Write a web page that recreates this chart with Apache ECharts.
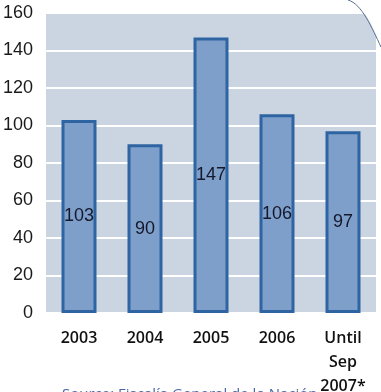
<!DOCTYPE html>
<html><head><meta charset="utf-8">
<script src="https://cdn.jsdelivr.net/npm/echarts@6/dist/echarts.min.js"></script>
<style>html,body{margin:0;padding:0;background:#fff}#c{width:381px;height:392px}</style>
</head><body><div id="c"></div>
<script>
var categories = ['2003', '2004', '2005', '2006', 'Until\nSep\n2007*'];
var values = [103, 90, 147, 106, 97];
var yTicks = [0, 20, 40, 60, 80, 100, 120, 140, 160];
var sourceText = 'Source: Fiscalía General de la Nación';

var chart = echarts.init(document.getElementById('c'), null, {renderer: 'canvas'});
chart.setOption({
  animation: false,
  grid: {left: 46, right: 5, top: 13, bottom: 79, show: true, backgroundColor: '#cbd5e2', borderWidth: 0, outerBoundsMode: 'none', containLabel: false},
  xAxis: {
    type: 'category', data: categories,
    axisLine: {show: false}, axisTick: {show: false},
    axisLabel: {margin: 13, color: '#111', fontFamily: 'Open Sans', fontSize: 16, fontWeight: 600, lineHeight: 24}
  },
  yAxis: {
    type: 'value', min: yTicks[0], max: yTicks[yTicks.length - 1], interval: 20,
    axisLine: {show: false}, axisTick: {show: false},
    axisLabel: {margin: 13, color: '#1a1a1a', fontFamily: 'Liberation Sans', fontSize: 18},
    splitLine: {lineStyle: {color: '#ffffff', width: 2}}
  },
  series: [{
    type: 'bar', data: values, barWidth: 35,
    itemStyle: {color: '#7f9fcb', borderColor: '#2f64a2', borderWidth: 3},
    label: {show: true, position: 'inside', color: '#15182a', fontFamily: 'Liberation Sans', fontSize: 18}
  }],
  graphic: [
    {type: 'polygon', shape: {points: [[348, 0], [381, 0], [381, 47], [378, 40], [370, 22], [360, 6]]}, style: {fill: '#ffffff'}, z: 100},
    {type: 'bezierCurve', shape: {x1: 348, y1: 0, x2: 381, y2: 47, cpx1: 362, cpy1: 4, cpx2: 372, cpy2: 28}, style: {stroke: '#5a7090', lineWidth: 1, fill: null}, z: 101},
    {type: 'text', left: 62, top: 387, style: {text: sourceText, fill: '#4a68a6', font: '15px "Open Sans"'}, z: 100}
  ]
});
</script></body></html>
